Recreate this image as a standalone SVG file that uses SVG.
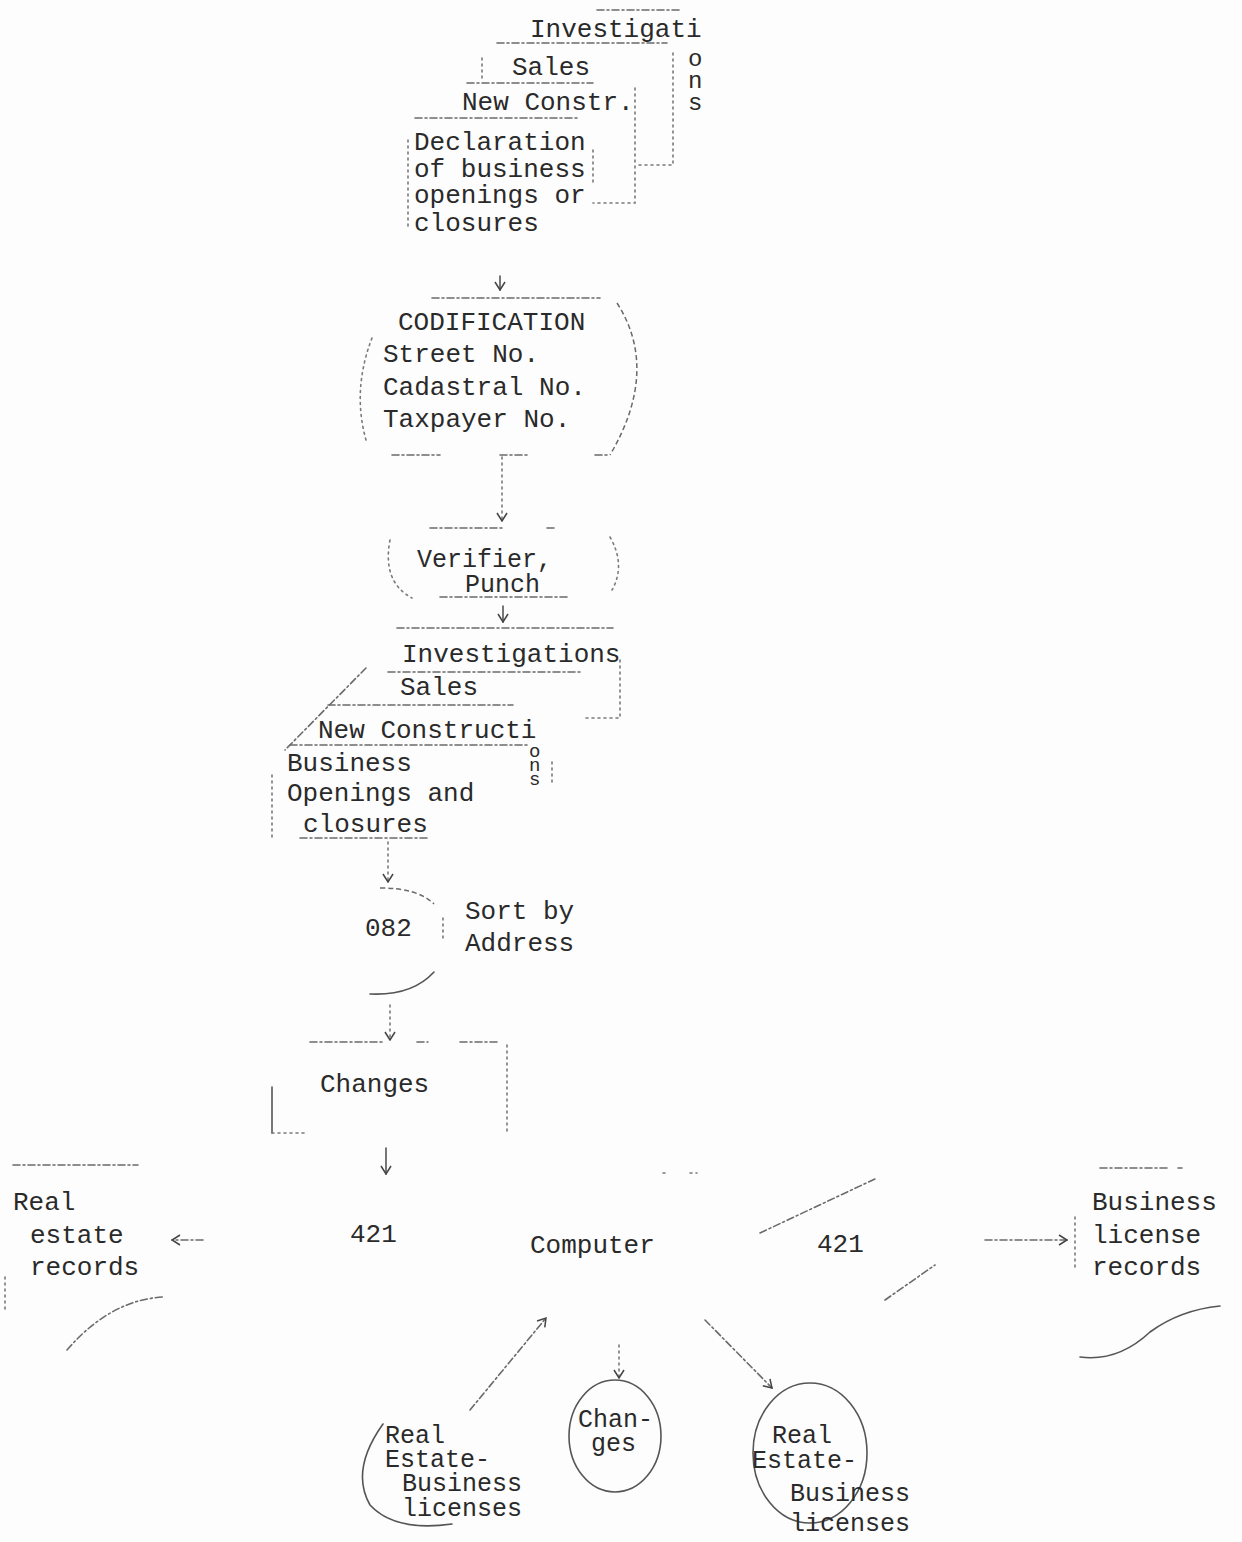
<svg xmlns="http://www.w3.org/2000/svg" width="1242" height="1542" viewBox="0 0 1242 1542">
  <defs>
    <style>
      .t { font-family: "Liberation Mono", "DejaVu Sans Mono", monospace; font-size: 26px; fill: #2a2a2a; }
      .tn { font-family: "Liberation Mono", "DejaVu Sans Mono", monospace; font-size: 25px; fill: #2a2a2a; }
      .tm { font-family: "Liberation Mono", "DejaVu Sans Mono", monospace; font-size: 24px; fill: #2a2a2a; }
      .ts { font-family: "Liberation Mono", "DejaVu Sans Mono", monospace; font-size: 19px; fill: #2a2a2a; }
      .d { fill: none; stroke: #6a6a6a; stroke-width: 1.6; stroke-dasharray: 7 3 2 3; stroke-linecap: round; }
      .dt { fill: none; stroke: #7a7a7a; stroke-width: 1.6; stroke-dasharray: 2 4; stroke-linecap: round; }
      .s { fill: none; stroke: #555; stroke-width: 1.6; stroke-linecap: round; }
      .c { fill: none; stroke: #6a6a6a; stroke-width: 1.5; stroke-dasharray: 5 3; }
    </style>
    <!-- open typewriter-style arrowhead, drawn pointing along +x -->
    <marker id="arr" viewBox="0 0 12 12" refX="11" refY="6" markerWidth="12" markerHeight="12" markerUnits="userSpaceOnUse" orient="auto">
      <path d="M3,1 L11,6 L3,11" fill="none" stroke="#444" stroke-width="1.5"/>
    </marker>
  </defs>
  <rect width="1242" height="1542" fill="#fdfdfd"/>

  <!-- source documents: stacked forms -->
  <g id="source-documents">
    <path class="d" d="M597,10 H680"/>
    <path class="d" d="M497,43 H667"/>
    <path class="dt" d="M673,53 V165 H635"/>
    <path class="dt" d="M482,58 V80"/>
    <path class="d" d="M467,83 H593"/>
    <path class="dt" d="M635,88 V203 H593"/>
    <path class="d" d="M415,118 H577"/>
    <path class="dt" d="M408,140 V228"/>
    <path class="dt" d="M593,150 V182"/>
    <text class="t" x="530" y="37">Investigati</text>
    <!-- word tail typed downward in the margin -->
    <text class="tm"><tspan x="688" y="66">o</tspan><tspan x="688" y="88">n</tspan><tspan x="688" y="110">s</tspan></text>
    <text class="t" x="512" y="75">Sales</text>
    <text class="t" x="462" y="110">New Constr.</text>
    <text class="t" x="414" y="150">Declaration</text>
    <text class="t" x="414" y="177">of business</text>
    <text class="t" x="414" y="203">openings or</text>
    <text class="t" x="414" y="231">closures</text>
  </g>

  <!-- codification step -->
  <g id="codification">
    <path class="d" d="M432,298 H600"/>
    <path class="dt" d="M372,338 Q352,390 366,440"/>
    <path class="c" d="M617,303 Q660,370 610,455"/>
    <path class="d" d="M392,455 H440 M500,455 H530 M595,455 H608"/>
    <text class="t" x="398" y="330">CODIFICATION</text>
    <text class="t" x="383" y="362">Street No.</text>
    <text class="t" x="383" y="395">Cadastral No.</text>
    <text class="t" x="383" y="427">Taxpayer No.</text>
  </g>

  <!-- verifier / punch step -->
  <g id="verifier">
    <path class="d" d="M430,528 H503 M547,528 H555"/>
    <path class="dt" d="M390,540 Q382,582 412,598"/>
    <path class="dt" d="M610,537 Q626,565 612,590"/>
    <path class="d" d="M440,597 H568"/>
    <text class="tn" x="417" y="567">Verifier,</text>
    <text class="tn" x="465" y="592">Punch</text>
  </g>

  <!-- punched cards: stacked decks -->
  <g id="punched-cards">
    <path class="d" d="M397,628 H613"/>
    <path class="dt" d="M620,660 V718 H583"/>
    <path class="d" d="M388,672 H583"/>
    <path class="d" d="M328,705 H513"/>
    <path class="d" d="M366,668 L285,750"/>
    <path class="d" d="M290,745 H530"/>
    <path class="dt" d="M272,775 V838"/>
    <path class="dt" d="M552,762 V782"/>
    <path class="d" d="M300,838 H428"/>
    <text class="t" x="402" y="662">Investigations</text>
    <text class="t" x="400" y="695">Sales</text>
    <text class="t" x="318" y="738">New Constructi</text>
    <!-- word tail typed downward at the card edge -->
    <text class="ts"><tspan x="529" y="757">o</tspan><tspan x="529" y="771">n</tspan><tspan x="529" y="785">s</tspan></text>
    <text class="t" x="287" y="771">Business</text>
    <text class="t" x="287" y="801">Openings and</text>
    <text class="t" x="303" y="832">closures</text>
  </g>

  <!-- sort step -->
  <g id="sort">
    <path class="c" d="M380,888 Q418,888 434,904"/>
    <path class="dt" d="M443,918 V938"/>
    <path class="s" d="M434,972 Q412,996 370,994"/>
    <text class="t" x="365" y="936">082</text>
    <text class="t" x="465" y="919">Sort by</text>
    <text class="t" x="465" y="951">Address</text>
  </g>

  <!-- change cards -->
  <g id="changes-cards">
    <path class="d" d="M310,1042 H383 M417,1042 H428 M460,1042 H497"/>
    <path class="dt" d="M507,1045 V1133"/>
    <path class="s" d="M272,1087 V1133"/>
    <path class="dt" d="M272,1133 H307"/>
    <text class="t" x="320" y="1092">Changes</text>
  </g>

  <!-- computer run -->
  <g id="computer">
    <path class="d" d="M760,1233 L877,1178"/>
    <path class="d" d="M885,1300 L935,1265"/>
    <path class="dt" d="M663,1173 H668 M690,1173 H697"/>
    <text class="t" x="350" y="1242">421</text>
    <text class="t" x="530" y="1253">Computer</text>
    <text class="t" x="817" y="1252">421</text>
  </g>

  <!-- real estate records file -->
  <g id="real-estate-records">
    <path class="d" d="M13,1165 H138"/>
    <path class="dt" d="M5,1277 V1310"/>
    <path class="d" d="M67,1350 Q110,1300 163,1297"/>
    <text class="t" x="13" y="1210">Real</text>
    <text class="t" x="30" y="1243">estate</text>
    <text class="t" x="30" y="1275">records</text>
  </g>

  <!-- business license records file -->
  <g id="business-license-records">
    <path class="d" d="M1100,1168 H1170 M1178,1168 H1182"/>
    <path class="dt" d="M1075,1217 V1267"/>
    <path class="s" d="M1080,1357 Q1118,1362 1150,1332 Q1180,1310 1220,1306"/>
    <text class="t" x="1092" y="1210">Business</text>
    <text class="t" x="1092" y="1243">license</text>
    <text class="t" x="1092" y="1275">records</text>
  </g>

  <!-- input master tape -->
  <g id="tape-in">
    <path class="s" d="M383,1424 Q350,1470 370,1505 Q395,1532 452,1524"/>
    <text class="tn" x="385" y="1443">Real</text>
    <text class="tn" x="385" y="1467">Estate-</text>
    <text class="tn" x="402" y="1491">Business</text>
    <text class="tn" x="402" y="1516">licenses</text>
  </g>

  <!-- changes listing disk -->
  <g id="changes-disk">
    <ellipse class="s" cx="615" cy="1436" rx="46" ry="56"/>
    <text class="tn" x="578" y="1427">Chan-</text>
    <text class="tn" x="591" y="1451">ges</text>
  </g>

  <!-- output master tape -->
  <g id="tape-out">
    <ellipse class="s" cx="810" cy="1453" rx="57" ry="70"/>
    <text class="tn" x="772" y="1443">Real</text>
    <text class="tn" x="752" y="1468">Estate-</text>
    <text class="tn" x="790" y="1501">Business</text>
    <text class="tn" x="790" y="1531">licenses</text>
  </g>

  <!-- flow connectors -->
  <g id="connectors">
    <path class="s" d="M500,276 V290" marker-end="url(#arr)"/>
    <path class="dt" d="M502,457 V521" marker-end="url(#arr)"/>
    <path class="s" d="M503,606 V622" marker-end="url(#arr)"/>
    <path class="dt" d="M388,842 V882" marker-end="url(#arr)"/>
    <path class="dt" d="M390,1005 V1040" marker-end="url(#arr)"/>
    <path class="s" d="M386,1148 V1174" marker-end="url(#arr)"/>
    <path class="d" d="M203,1240 H172" marker-end="url(#arr)"/>
    <path class="d" d="M985,1240 H1067" marker-end="url(#arr)"/>
    <path class="d" d="M470,1410 L546,1318" marker-end="url(#arr)"/>
    <path class="dt" d="M619,1345 V1378" marker-end="url(#arr)"/>
    <path class="d" d="M705,1320 L772,1388" marker-end="url(#arr)"/>
  </g>
</svg>
